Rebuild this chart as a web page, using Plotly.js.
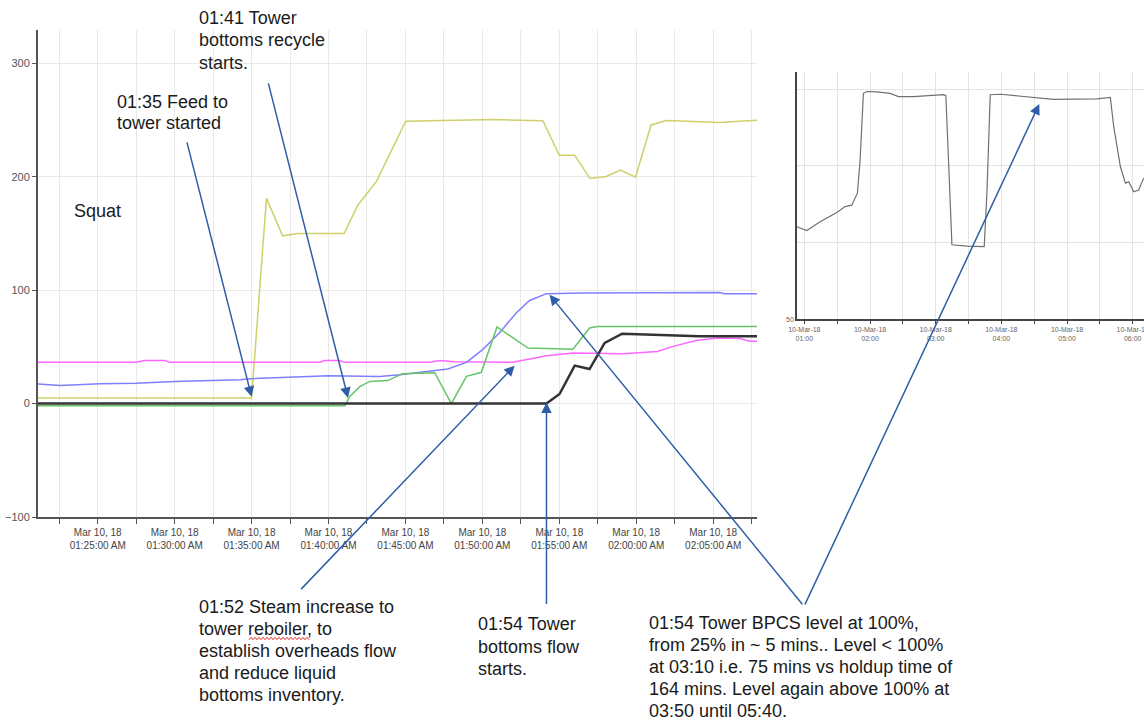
<!DOCTYPE html>
<html><head><meta charset="utf-8">
<script src="https://cdn.plot.ly/plotly-3.0.1.min.js"></script>
<style>html,body{margin:0;padding:0;background:#fff}#chart{width:1144px;height:722px}</style>
</head><body><div id="chart"></div>
<script>
const DAY = '2018-03-10 ';

// Main chart series (time HH:MM:SS, value)
const yellowTimes = ['01:21:00','01:35:00','01:35:58','01:37:01','01:38:00','01:41:01','01:41:54','01:43:07','01:45:01','01:50:48','01:53:56','01:55:00','01:56:00','01:57:00','01:58:03','01:58:58','01:59:57','02:00:58','02:01:57','02:05:25','02:06:42','02:08:00'];
const yellowValues = [5,5,181,148,150,150,175,196,249,250.5,249.5,219,219,198.5,200.3,206,199.7,245.8,249.6,248,249,250];

const blueTimes = ['01:21:00','01:22:33','01:25:09','01:27:29','01:30:00','01:34:14','01:34:57','01:37:29','01:40:01','01:43:20','01:44:38','01:47:45','01:48:58','01:50:01','01:51:06','01:52:12','01:53:04','01:54:10','01:56:30','02:05:25','02:05:44','02:08:00'];
const blueValues = [17.3,16,17.5,18,19.5,21,22,23,24.5,24,25.5,30.5,36.4,47.6,62.3,80,91,97,97.5,98,97,97];

const greenTimes = ['01:21:00','01:41:04','01:41:23','01:42:02','01:42:41','01:43:51','01:44:49','01:46:54','01:47:59','01:48:58','01:49:56','01:50:57','01:52:58','01:55:53','01:56:58','01:57:29','02:08:00'];
const greenValues = [-1.8,-1.8,6.4,15,19.6,20.3,26.4,27.3,0,24,27.6,67.6,49,48,66.7,68,68];

const blackTimes = ['01:21:00','01:54:10','01:55:01','01:56:00','01:56:58','01:57:57','01:59:05','02:01:04','02:04:06','02:08:00'];
const blackValues = [0,0,8.5,33.5,30.5,53.5,61.7,60.8,59.3,59.3];

const magentaTimes = ['01:21:00','01:27:29','01:28:04','01:29:22','01:29:42','01:39:26','01:39:45','01:40:43','01:41:04','01:46:35','01:47:14','01:48:12','01:51:58','01:54:10','01:55:52','01:59:09','02:01:22','02:02:24','02:03:58','02:05:16','02:06:45','02:07:24','02:08:00'];
const magentaValues = [36.4,36.4,38,38,36.4,36.5,38,38,36.4,36.4,38,37,36.4,42.3,44.6,44,46,50.5,55.8,57.9,57.5,55,55];

// Inset: tower BPCS level
const levelTimes = ['00:53:03','01:02:12','01:14:22','01:29:38','01:37:13','01:43:21','01:48:28','01:50:56','01:53:58','01:57:04','02:06:13','02:18:23','02:25:58','02:39:41','03:07:08','03:09:17','03:11:42','03:14:49','03:28:32','03:44:21','03:46:48','03:49:51','03:59:00','04:29:27','04:47:44','05:27:28','05:39:35','05:42:38','05:48:44','05:53:18','05:56:21','06:00:55','06:05:29','06:10:04'];
const levelValues = [70.1,69.3,71.2,73.2,74.5,74.8,77.4,84.6,99.1,99.5,99.4,99.1,98.4,98.4,98.8,98.6,84.6,66.2,65.9,65.8,77.4,98.8,98.9,98.3,97.8,97.9,98.2,91.9,83.2,79.6,79.9,77.7,78.1,80.7];

const insetTickVals = [50, 66.67, 83.33, 100];
const insetTickText = ['50', '', '', ''];

// Annotation texts (one entry per line)
const noteRecycle = ['01:41 Tower', 'bottoms recycle', 'starts.'];
const noteFeed = ['01:35 Feed to', 'tower started'];
const noteSquat = ['Squat'];
const noteSteam = ['01:52 Steam increase to', 'tower reboiler, to', 'establish overheads flow', 'and reduce liquid', 'bottoms inventory.'];
const noteFlow = ['01:54 Tower', 'bottoms flow', 'starts.'];
const noteLevel = ['01:54 Tower BPCS level at 100%,', 'from 25% in ~ 5 mins.. Level &lt; 100%', 'at 03:10 i.e. 75 mins vs holdup time of', '164 mins. Level again above 100% at', '03:50 until 05:40.'];

const d = a => a.map(t => DAY + t);

// geometry helpers (pixel -> paper)
const ML = 38, MT = 30, MB = 205, W = 1144, H = 722;
const PW = W - ML, PH = H - MT - MB;
const px = x => (x - ML) / PW;
const py = y => (H - MB - y) / PH;

function line(x, y, color, width, xa, ya) {
  return {x: d(x), y: y, type: 'scatter', mode: 'lines', xaxis: xa || 'x', yaxis: ya || 'y',
    line: {color: color, width: width}, hoverinfo: 'skip'};
}

const traces = [
  line(yellowTimes, yellowValues, '#cfcf6b', 1.5),
  line(magentaTimes, magentaValues, '#ff66ff', 1.5),
  line(blueTimes, blueValues, '#7f7fff', 1.5),
  line(greenTimes, greenValues, '#66c466', 1.5),
  line(blackTimes, blackValues, '#333333', 2.5),
  line(levelTimes, levelValues, '#707070', 1.2, 'x2', 'y2')
];

const textFont = {family: 'Liberation Sans, Arial, sans-serif', size: 18, color: '#1a1a1a'};
function note(lines, xp, y0, step) {
  return lines.map((t, i) => ({text: t, xref: 'paper', yref: 'paper', x: px(xp), y: py(y0 + i * step),
    xanchor: 'left', yanchor: 'middle', align: 'left', showarrow: false, font: textFont}));
}
const ARROW = '#2f5ea6';
function arrow(x, y, ax, ay, xr, yr) {
  return {text: '', x: x, y: y, xref: xr || 'x', yref: yr || 'y', ax: ax, ay: ay, showarrow: true,
    arrowhead: 2, arrowsize: 1.4, arrowwidth: 1.5, arrowcolor: ARROW, standoff: 0};
}

const annotations = [].concat(
  note(noteRecycle, 197, 18, 22.5),
  note(noteFeed, 114.7, 101.7, 21.6),
  note(noteSquat, 72, 210.7, 22),
  note(noteSteam, 197.3, 606.7, 22.1),
  note(noteFlow, 475.7, 624.3, 22.2),
  note(noteLevel, 647, 623.3, 21.9),
  [
    arrow(DAY + '01:35:00', 6, -65, -256),
    arrow(DAY + '01:41:16', 5, -80, -316),
    arrow(DAY + '01:52:06', 33.5, -215, 225),
    arrow(DAY + '01:54:10', 1, 0, 203),
    arrow(DAY + '01:54:22', 96, 254, 311),
    arrow(DAY + '04:34:40', 96.8, -235, 502, 'x2', 'y2')
  ]
);

// red spell-check squiggle under "reboiler"
let sq = '';
for (let i = 0, xx = 249; xx <= 310; i++, xx += 2) {
  const yy = 638.5 + (i % 2 ? -1.2 : 1.2);
  sq += (i === 0 ? 'M' : 'L') + px(xx).toFixed(5) + ',' + py(yy).toFixed(5);
}
const shapes = [{type: 'path', xref: 'paper', yref: 'paper', path: sq, line: {color: '#e03030', width: 1}}];

const gridC = '#e9e9e9';
const layout = {
  width: W, height: H,
  margin: {l: ML, r: 0, t: MT, b: MB, pad: 0},
  paper_bgcolor: '#fff', plot_bgcolor: '#fff',
  showlegend: false,
  font: {family: 'Liberation Sans, Arial, sans-serif'},
  xaxis: {
    type: 'date', domain: [0, px(757)], anchor: 'y',
    range: [DAY + '01:21:07', DAY + '02:07:51'],
    tick0: DAY + '01:25:00', dtick: 300000,
    tickformat: '%b %d, %y<br>%I:%M:%S %p',
    tickfont: {size: 10, color: '#444'},
    showline: true, linecolor: '#555', linewidth: 2,
    ticks: 'outside', ticklen: 5, tickcolor: '#555', tickwidth: 1,
    showgrid: true, gridcolor: gridC, gridwidth: 1, zeroline: false,
    minor: {tick0: DAY + '01:22:30', dtick: 150000, showgrid: true, gridcolor: gridC, ticks: 'outside', ticklen: 5, tickcolor: '#555'}
  },
  yaxis: {
    domain: [0, 1], anchor: 'x',
    range: [-100, 329.5], dtick: 100, tick0: 0,
    tickfont: {size: 11, color: '#555'},
    showline: true, linecolor: '#555', linewidth: 2,
    ticks: 'outside', ticklen: 4, tickcolor: '#555',
    showgrid: true, gridcolor: gridC, zeroline: false
  },
  xaxis2: {
    type: 'date', domain: [px(796.7), 1], anchor: 'y2',
    range: [DAY + '00:53:00', DAY + '06:10:20'],
    tick0: DAY + '01:00:00', dtick: 3600000,
    tickformat: '%d-%b-%y<br>%H:%M',
    tickfont: {size: 7, color: '#666'},
    ticklabeloverflow: 'allow',
    showline: true, linecolor: '#444', linewidth: 1.5,
    ticks: 'outside', ticklen: 3, tickcolor: '#444',
    showgrid: true, gridcolor: '#e4e4e4', zeroline: false,
    minor: {tick0: DAY + '00:30:00', dtick: 1800000, showgrid: true, gridcolor: '#e4e4e4', ticks: 'outside', ticklen: 3, tickcolor: '#444'}
  },
  yaxis2: {
    domain: [py(319.3), py(71.7)], anchor: 'x2',
    range: [50, 103.8],
    tickmode: 'array', tickvals: insetTickVals, ticktext: insetTickText,
    tickfont: {size: 7, color: '#666'},
    showline: true, linecolor: '#444', linewidth: 1.5, ticks: '',
    showgrid: true, gridcolor: '#e4e4e4', zeroline: false
  },
  annotations: annotations,
  shapes: shapes
};

Plotly.newPlot('chart', traces, layout, {staticPlot: true, displayModeBar: false});
</script></body></html>
